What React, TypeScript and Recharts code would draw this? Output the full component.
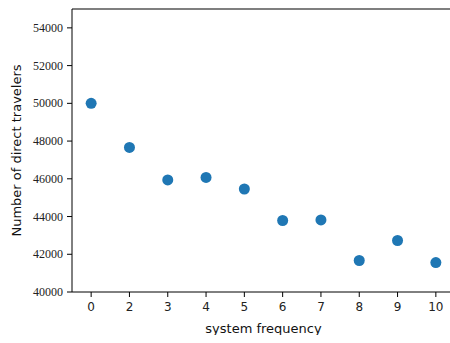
import { ScatterChart, Scatter, XAxis, YAxis, ReferenceLine } from 'recharts';

const frequencies = ['0', '2', '3', '4', '5', '6', '7', '8', '9', '10'];
const travelers = [50000, 47660, 45940, 46070, 45460, 43790, 43820, 41670, 42730, 41560];
const yTicks = [40000, 42000, 44000, 46000, 48000, 50000, 52000, 54000];

const data = frequencies.map((f, i) => ({ freq: f, travelers: travelers[i] }));

function YTick(props: any) {
    const { x, y, payload } = props;
    return (
        <text x={x} y={y} dy={4} textAnchor="end" fill="#222" fontSize={12} fontFamily="'Liberation Serif', serif">
            {payload.value}
        </text>
    );
}

export default function App() {
    return (
        <div style={{ width: 442, height: 327, overflow: 'hidden', position: 'absolute', left: 8, top: 8 }}>
            <ScatterChart
                width={442}
                height={327}
                margin={{ top: 1, right: -5, left: 0, bottom: 2 }}
            >
                <XAxis
                    dataKey="freq"
                    type="category"
                    allowDuplicatedCategory={false}
                    height={41}
                    tickSize={5}
                    tickMargin={5}
                    stroke="#000"
                    tick={{ fill: '#222', fontSize: 12, fontFamily: 'DejaVu Sans' }}
                    label={{ value: 'system frequency', position: 'insideBottom', offset: 0, fill: '#111', fontSize: 13, fontFamily: 'DejaVu Sans' }}
                />
                <YAxis
                    dataKey="travelers"
                    type="number"
                    domain={[40000, 55000]}
                    ticks={yTicks}
                    width={64}
                    tickSize={5}
                    tickMargin={4}
                    stroke="#000"
                    tick={<YTick />}
                    label={{ value: 'Number of direct travelers', angle: -90, position: 'insideLeft', offset: 8, style: { textAnchor: 'middle' }, fill: '#111', fontSize: 13, fontFamily: 'DejaVu Sans' }}
                />
                <ReferenceLine y={55000} stroke="#000" strokeWidth={1.2} />
                <Scatter data={data} fill="#1f77b4" isAnimationActive={false}
                    shape={(p: any) => <circle cx={p.cx} cy={p.cy} r={5.5} fill="#1f77b4" />} />
            </ScatterChart>
        </div>
    );
}
